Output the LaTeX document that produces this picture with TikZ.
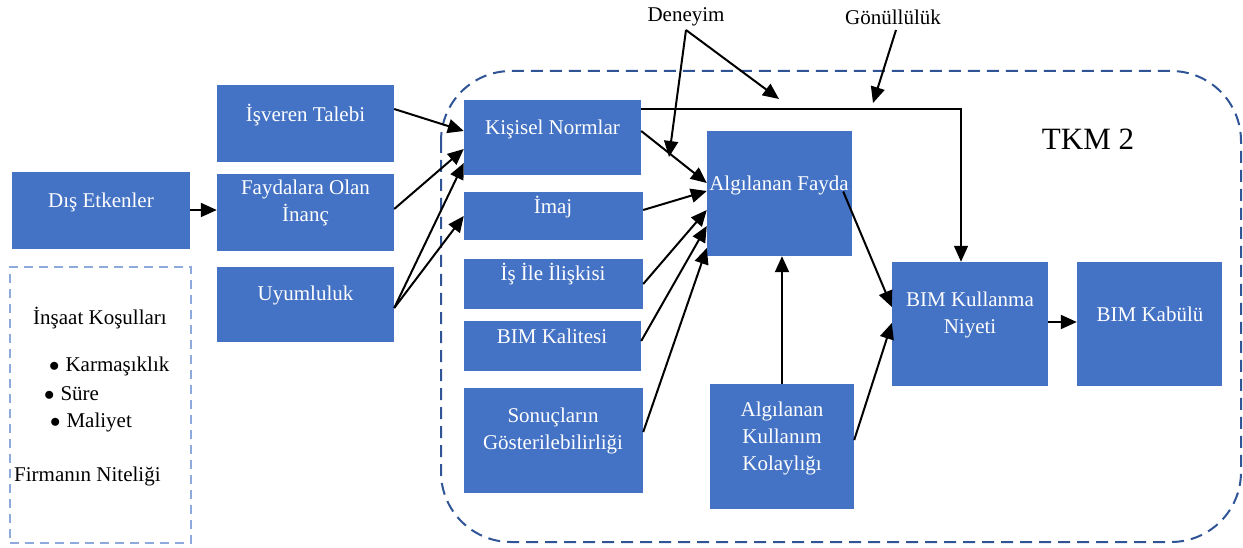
\documentclass[tikz,border=0pt]{standalone}
\usepackage{fontspec}
\setmainfont{Liberation Serif}
\usetikzlibrary{arrows.meta,calc,fit}
\definecolor{boxblue}{HTML}{4472C4}
\definecolor{frameblue}{HTML}{2F5597}
\definecolor{lightframe}{HTML}{8EA9DB}
\newcommand\itemdot{$\bullet$}

\begin{document}
\begin{tikzpicture}[x=1pt,y=-1pt,
  box/.style={fill=boxblue, draw=none, inner sep=0pt},
  btext/.style={text=white, font=\fontsize{21}{27}\selectfont, align=center, inner sep=0pt},
  ktext/.style={text=black, font=\fontsize{21}{27}\selectfont, align=center, inner sep=0pt},
  arr/.style={-{Triangle[length=16pt,width=14pt]}, line width=2pt, black},
  thinarr/.style={-{Triangle[length=16pt,width=14pt]}, line width=1.4pt, black}
]
\useasboundingbox (0,0) rectangle (1243,548);

% TKM 2 frame
\draw[frameblue, line width=2pt, dash pattern=on 12pt off 7pt, rounded corners=70pt]
  (441,71) rectangle (1241,542);
\node[ktext, font=\fontsize{31}{36}\selectfont] (tkm) at (1088,139) {TKM 2};

% external factors
\node[box, fit={(12,172) (190,249)}] (dis) {};
\node[btext] (t-dis) at (101,202) {Dış Etkenler};
\node[draw=lightframe, line width=2pt, dash pattern=on 9pt off 6pt, inner sep=0pt,
      fit={(10,267) (191,543)}] (ins) {};
\node[ktext] (t-ins) at (100,318) {İnşaat Koşulları};
\node[ktext, anchor=west] (b1) at (49,366) {\itemdot\hspace{6pt}Karmaşıklık};
\node[ktext, anchor=west] (b2) at (44,394) {\itemdot\hspace{6pt}Süre};
\node[ktext, anchor=west] (b3) at (50,422) {\itemdot\hspace{6pt}Maliyet};
\node[ktext, anchor=west] (t-fir) at (14,476) {Firmanın Niteliği};

% second column
\node[box, fit={(217,85) (394,162)}] (isv) {};
\node[btext] (t-isv) at (305.5,115) {İşveren Talebi};
\node[box, fit={(217,174) (394,251)}] (fay) {};
\node[btext] (t-fay) at (305.5,203) {Faydalara Olan\\İnanç};
\node[box, fit={(217,267) (394,342)}] (uyu) {};
\node[btext] (t-uyu) at (305.5,295) {Uyumluluk};

% third column
\node[box, fit={(464,100) (641,175)}] (kn) {};
\node[btext] (t-kn) at (552.5,129) {Kişisel Normlar};
\node[box, fit={(464,192) (643,240)}] (imaj) {};
\node[btext] (t-imaj) at (553,207) {İmaj};
\node[box, fit={(464,259) (643,309)}] (isile) {};
\node[btext] (t-isile) at (553,274) {İş İle İlişkisi};
\node[box, fit={(464,321) (641,371)}] (bimk) {};
\node[btext] (t-bimk) at (552,336) {BIM Kalitesi};
\node[box, fit={(464,388) (643,493)}] (son) {};
\node[btext] (t-son) at (553,431) {Sonuçların\\Gösterilebilirliği};

% perceived constructs
\node[box, fit={(707,131) (852,256)}] (af) {};
\node[btext] (t-af) at (779,185) {Algılanan Fayda};
\node[box, fit={(710,384) (854,509)}] (aku) {};
\node[btext] (t-aku) at (782,438) {Algılanan\\Kullanım\\Kolaylığı};

% outcomes
\node[box, fit={(892,262) (1048,386)}] (niy) {};
\node[btext] (t-niy) at (970,315) {BIM Kullanma\\Niyeti};
\node[box, fit={(1077,262) (1222,386)}] (kab) {};
\node[btext] (t-kab) at (1150,314) {BIM Kabülü};

% moderators
\node[ktext] (den) at (686,17) {Deneyim};
\node[ktext] (gon) at (893,17) {Gönüllülük};
\coordinate (den-o) at (686,30);
\coordinate (gon-o) at (896,30);
\coordinate (den-t1) at (669,157);
\coordinate (den-t2) at (779,99);
\coordinate (gon-t) at (873,103);
\coordinate (bend) at (961,109);

% connectors
\draw[arr] (dis.east |- 0,210) -- (fay.west |- 0,210);
\draw[arr] (isv.east |- 0,109) -- (kn.west |- 0,131);
\draw[arr] (fay.east |- 0,209) -- (kn.west |- 0,149);
\draw[arr] (uyu.east |- 0,308) -- (kn.west |- 0,163);
\draw[arr] (uyu.east |- 0,308) -- (imaj.west |- 0,216);

\draw[arr] (kn.east |- 0,131) -- (af.west |- 0,183);
\draw[arr] (imaj.east |- 0,210) -- (af.west |- 0,191);
\draw[arr] (isile.east |- 0,284) -- (af.west |- 0,210);
\draw[arr] (bimk.east |- 0,341) -- (af.west |- 0,226);
\draw[arr] (son.east |- 0,432) -- (af.west |- 0,248);
\draw[arr] (aku.north -| 782,0) -- (af.south -| 782,0);

\draw[arr] ($(af.east)+(-9,-2)$) -- (niy.west |- 0,307);
\draw[arr] (aku.east |- 0,440) -- (niy.west |- 0,323);
\draw[arr] (niy.east |- 0,322) -- (kab.west |- 0,322);
\draw[thinarr] (kn.east |- 0,109) -- (bend) -- (niy.north -| bend);

\draw[arr] (den-o) -- (den-t1);
\draw[arr] (den-o) -- (den-t2);
\draw[arr] (gon-o) -- (gon-t);
\end{tikzpicture}
\end{document}
